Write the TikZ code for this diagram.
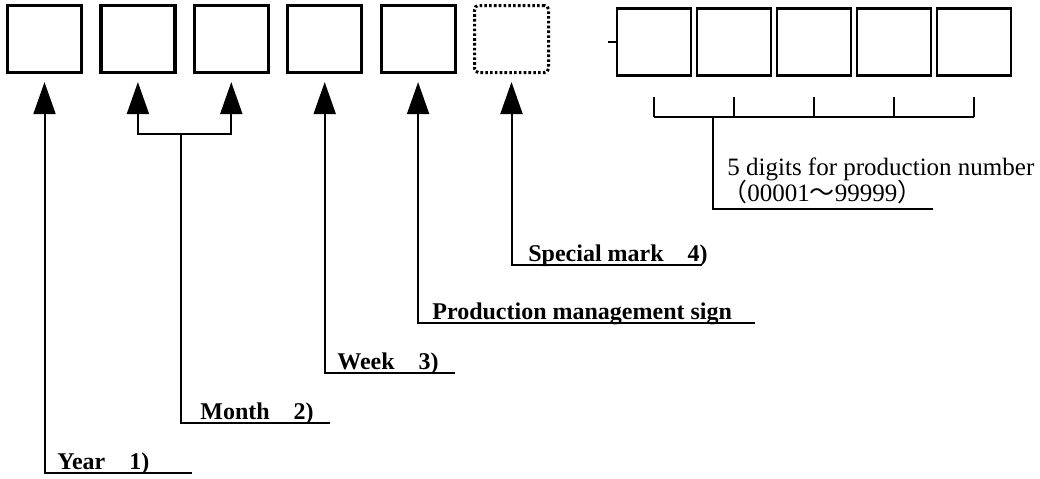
\documentclass[tikz,border=0pt]{standalone}
\usepackage{fontspec}
\setmainfont{Liberation Serif}
\newfontfamily\cjk{Noto Sans CJK SC}
\usepackage{tikz}
\usetikzlibrary{arrows.meta, calc}

\begin{document}
\begin{tikzpicture}[x=0.5pt, y=-0.5pt,
  cell/.style={draw, line width=1.6pt, minimum width=37pt, minimum height=33.5pt, inner sep=0pt},
  optcell/.style={cell, line width=1.5pt, dash pattern=on 1.3pt off 1.1pt, rounded corners=2pt},
  digit/.style={draw, line width=1.3pt, minimum width=37pt, minimum height=33.5pt, inner sep=0pt},
  lead/.style={line width=1pt},
  ptr/.style={lead, -{Triangle[length=16pt, width=11pt]}, shorten >=4pt},
  lbl/.style={anchor=base west, inner sep=0pt, font=\fontsize{12}{14}\selectfont\bfseries},
  note/.style={anchor=base west, inner sep=0pt, font=\fontsize{12.5}{14}\selectfont}]
  \useasboundingbox (0,0) rectangle (1040,478);

  % Code positions
  \foreach \i in {1,...,5}
    \node[cell] (b\i) at ({44.5+93.4*(\i-1)},39) {};
  \node[optcell] (b6) at (511.5,39) {};

  % Production number positions
  \foreach \i in {1,...,5}
    \node[digit] (n\i) at ({654+80*(\i-1)},42) {};
  \draw[line width=0.6pt] (n1.west) -- ++(-8,0);

  % Year
  \coordinate (yend) at (192,473);
  \draw[ptr] (yend) -| (b1.south);
  \node[lbl] (tyear) at (57,469) {Year\quad 1)};

  % Month
  \coordinate (mj) at (181,134);
  \coordinate (mend) at (330,423);
  \draw[ptr] (mj) -| (b2.south);
  \draw[ptr] (mj) -| (b3.south);
  \draw[lead] (mend) -| (mj);
  \node[lbl] (tmonth) at (200,419) {Month\quad 2)};

  % Week
  \coordinate (wend) at (455,373);
  \draw[ptr] (wend) -| (b4.south);
  \node[lbl] (tweek) at (337,369) {Week\quad 3)};

  % Production management sign
  \coordinate (pend) at (755,323);
  \draw[ptr] (pend) -| (b5.south);
  \node[lbl] (tprod) at (432,319) {Production management sign};

  % Special mark
  \coordinate (send) at (702,265);
  \draw[ptr] (send) -| (b6.south);
  \node[lbl] (tspec) at (528,261) {Special mark\quad 4)};

  % Bracket over the five digits
  \foreach \i in {1,...,5}
    \draw[lead] ($(n\i.south)+(0,20)$) -- ($(n\i.south)+(0,40)$);
  \draw[lead] ($(n1.south)+(0,40)$) -- ($(n5.south)+(0,40)$);
  \coordinate (dj) at (713,117);
  \coordinate (dend) at (933,209);
  \draw[lead] (dj) |- (dend);
  \node[note] (tdig) at (727,175) {5 digits for production number};
  \node[note] (trange) at (722,201) {{\cjk （}00001{\cjk ～}99999{\cjk ）}};
\end{tikzpicture}
\end{document}
